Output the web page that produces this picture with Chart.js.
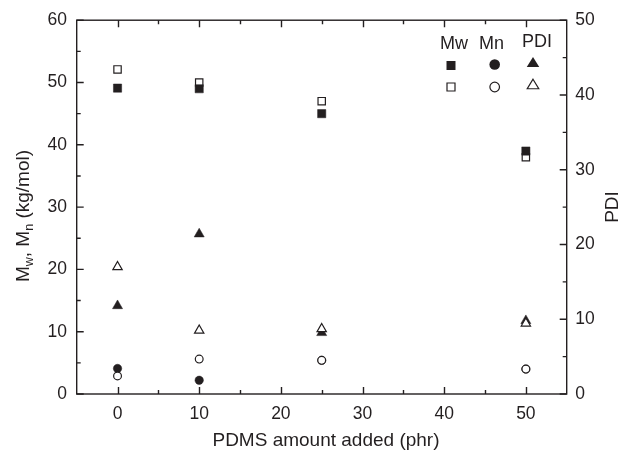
<!DOCTYPE html>
<html>
<head>
<meta charset="utf-8">
<script src="https://cdn.jsdelivr.net/npm/chart.js@4/dist/chart.umd.min.js"></script>
<style>
  html, body { margin: 0; padding: 0; background: #fff; }
  canvas { display: block; }
</style>
</head>
<body>
<canvas id="chart" width="621" height="450"></canvas>
<script>
// PDMS loading (phr) for each sample
const pdmsPhr = [0, 10, 25, 50];

// Molecular weights (kg/mol), left axis
const mwFilled = [49.1, 49.0, 45.0, 39.0];
const mwOpen   = [52.1, 50.0, 47.0, 38.0];
const mnFilled = [4.1, 2.2, 5.4, 4.0];
const mnOpen   = [2.9, 5.6, 5.4, 4.0];

// Polydispersity index, right axis
const pdiFilled = [11.8, 21.4, 8.2, 9.8];
const pdiOpen   = [17.0, 8.5, 8.7, 9.45];

// Axis tick values
const xTicks = [0, 10, 20, 30, 40, 50];
const yLeftTicks = [0, 10, 20, 30, 40, 50, 60];
const yRightTicks = [0, 10, 20, 30, 40, 50];

// Legend column headings
const legendHeads = ['Mw', 'Mn', 'PDI'];

const INK = '#231f20';
const FAMILY = '"Liberation Sans", Arial, Helvetica, sans-serif';

Chart.defaults.font.family = FAMILY;
Chart.defaults.color = INK;

function pts(xs, ys) {
  return xs.map((x, i) => ({ x: x, y: ys[i] }));
}

function fixedTicks(values) {
  return scale => { scale.ticks = values.map(v => ({ value: v })); };
}

// Frame, inward major/minor tick marks, titles and the marker key
const decorations = {
  id: 'decorations',
  afterDraw(chart) {
    const { ctx, chartArea: a, scales } = chart;
    ctx.save();
    ctx.strokeStyle = INK;
    ctx.lineWidth = 1.4;
    ctx.strokeRect(a.left, a.top, a.right - a.left, a.bottom - a.top);

    ctx.beginPath();
    const MAJOR = 7, MINOR = 4;
    const tickSet = (vals) => {
      const out = [];
      vals.forEach((v, i) => {
        out.push([v, MAJOR]);
        if (i < vals.length - 1) out.push([(v + vals[i + 1]) / 2, MINOR]);
      });
      return out;
    };
    tickSet(xTicks).forEach(([v, len]) => {
      const px = Math.round(scales.x.getPixelForValue(v)) + 0.5;
      ctx.moveTo(px, a.bottom); ctx.lineTo(px, a.bottom - len);
      ctx.moveTo(px, a.top); ctx.lineTo(px, a.top + len);
    });
    tickSet(yLeftTicks).forEach(([v, len]) => {
      const py = scales.y.getPixelForValue(v);
      ctx.moveTo(a.left, py); ctx.lineTo(a.left + len, py);
    });
    tickSet(yRightTicks).forEach(([v, len]) => {
      const py = scales.y1.getPixelForValue(v);
      ctx.moveTo(a.right, py); ctx.lineTo(a.right - len, py);
    });
    ctx.stroke();

    // Axis titles
    ctx.fillStyle = INK;
    ctx.textBaseline = 'alphabetic';
    ctx.font = '19px ' + FAMILY;
    ctx.textAlign = 'center';
    ctx.fillText('PDMS amount added (phr)', 326, 446);

    // Left title with subscripts, rotated
    const parts = [
      ['M', false], ['w', true], [', M', false], ['n', true], [' (kg/mol)', false]
    ];
    const big = '19px ' + FAMILY, small = '12.5px ' + FAMILY;
    let total = 0;
    parts.forEach(([t, sub]) => { ctx.font = sub ? small : big; total += ctx.measureText(t).width; });
    ctx.save();
    ctx.translate(28.5, 216 + total / 2);
    ctx.rotate(-Math.PI / 2);
    ctx.textAlign = 'left';
    let cx = 0;
    parts.forEach(([t, sub]) => {
      ctx.font = sub ? small : big;
      ctx.fillText(t, cx, sub ? 4 : 0);
      cx += ctx.measureText(t).width;
    });
    ctx.restore();

    // Right title
    ctx.save();
    ctx.font = big;
    ctx.textAlign = 'center';
    ctx.translate(618, 207);
    ctx.rotate(-Math.PI / 2);
    ctx.fillText('PDI', 0, 0);
    ctx.restore();

    // Marker key: headings over filled/open symbol rows
    ctx.font = '18px ' + FAMILY;
    ctx.textAlign = 'center';
    ctx.fillText(legendHeads[0], 454, 49);
    ctx.fillText(legendHeads[1], 491.5, 49);
    ctx.fillText(legendHeads[2], 537, 47);

    const square = (x, y, s, filled) => {
      ctx.beginPath();
      ctx.rect(x - s / 2, y - s / 2, s, s);
      if (filled) { ctx.fillStyle = INK; ctx.fill(); }
      else { ctx.fillStyle = '#fff'; ctx.fill(); ctx.lineWidth = 1.2; ctx.stroke(); }
    };
    const circle = (x, y, r, filled) => {
      ctx.beginPath();
      ctx.arc(x, y, r, 0, Math.PI * 2);
      if (filled) { ctx.fillStyle = INK; ctx.fill(); }
      else { ctx.fillStyle = '#fff'; ctx.fill(); ctx.lineWidth = 1.2; ctx.stroke(); }
    };
    const triangle = (x, y, w, h, filled) => {
      ctx.beginPath();
      ctx.moveTo(x, y - h / 2);
      ctx.lineTo(x + w / 2, y + h / 2);
      ctx.lineTo(x - w / 2, y + h / 2);
      ctx.closePath();
      if (filled) { ctx.fillStyle = INK; ctx.fill(); }
      else { ctx.fillStyle = '#fff'; ctx.fill(); ctx.lineWidth = 1.2; ctx.stroke(); }
    };
    ctx.strokeStyle = INK;
    square(451, 65.5, 9, true);
    square(451, 87, 8, false);
    circle(494.7, 64.5, 5.3, true);
    circle(494.7, 87, 4.8, false);
    triangle(533, 62, 12.5, 10, true);
    triangle(533, 84, 11.5, 9.5, false);

    ctx.restore();
  }
};

const filledStyle = { backgroundColor: INK, borderColor: INK, borderWidth: 0.5 };
const openStyle = { backgroundColor: '#ffffff', borderColor: INK, borderWidth: 1.2 };

new Chart(document.getElementById('chart'), {
  type: 'scatter',
  data: {
    datasets: [
      Object.assign({ label: 'Mw', data: pts(pdmsPhr, mwFilled), yAxisID: 'y', pointStyle: 'rect', pointRadius: 5.8, order: 0 }, filledStyle),
      Object.assign({ label: 'Mw', data: pts(pdmsPhr, mwOpen), yAxisID: 'y', pointStyle: 'rect', pointRadius: 5.2, order: 1 }, openStyle),
      Object.assign({ label: 'Mn', data: pts(pdmsPhr, mnOpen), yAxisID: 'y', pointStyle: 'circle', pointRadius: 3.9, order: 2 }, openStyle),
      Object.assign({ label: 'Mn', data: pts(pdmsPhr, mnFilled), yAxisID: 'y', pointStyle: 'circle', pointRadius: 4.2, order: 3 }, filledStyle),
      Object.assign({ label: 'PDI', data: pts(pdmsPhr, pdiOpen), yAxisID: 'y1', pointStyle: 'triangle', pointRadius: 5.4, order: 4 }, openStyle),
      Object.assign({ label: 'PDI', data: pts(pdmsPhr, pdiFilled), yAxisID: 'y1', pointStyle: 'triangle', pointRadius: 5.8, order: 5 }, filledStyle)
    ]
  },
  options: {
    responsive: false,
    devicePixelRatio: 1,
    animation: false,
    events: [],
    layout: { padding: { top: 19.5, left: 0, right: 0, bottom: 0 } },
    plugins: { legend: { display: false }, tooltip: { enabled: false } },
    scales: {
      x: {
        type: 'linear', position: 'bottom', min: -5, max: 55,
        afterBuildTicks: fixedTicks(xTicks),
        afterFit: s => { s.height = 56; },
        grid: { display: false, drawTicks: false },
        border: { display: false },
        ticks: { padding: 9.4, maxRotation: 0, autoSkip: false, color: INK, font: { size: 17.5 } }
      },
      y: {
        type: 'linear', position: 'left', min: 0, max: 60,
        afterBuildTicks: fixedTicks(yLeftTicks),
        afterFit: s => { s.width = 76.7; },
        grid: { display: false, drawTicks: false },
        border: { display: false },
        ticks: { padding: 9.7, autoSkip: false, color: INK, font: { size: 17.5 } }
      },
      y1: {
        type: 'linear', position: 'right', min: 0, max: 50,
        afterBuildTicks: fixedTicks(yRightTicks),
        afterFit: s => { s.width = 54.3; },
        grid: { display: false, drawTicks: false },
        border: { display: false },
        ticks: { padding: 8.5, autoSkip: false, color: INK, font: { size: 17.5 } }
      }
    }
  },
  plugins: [decorations]
});
</script>
</body>
</html>
